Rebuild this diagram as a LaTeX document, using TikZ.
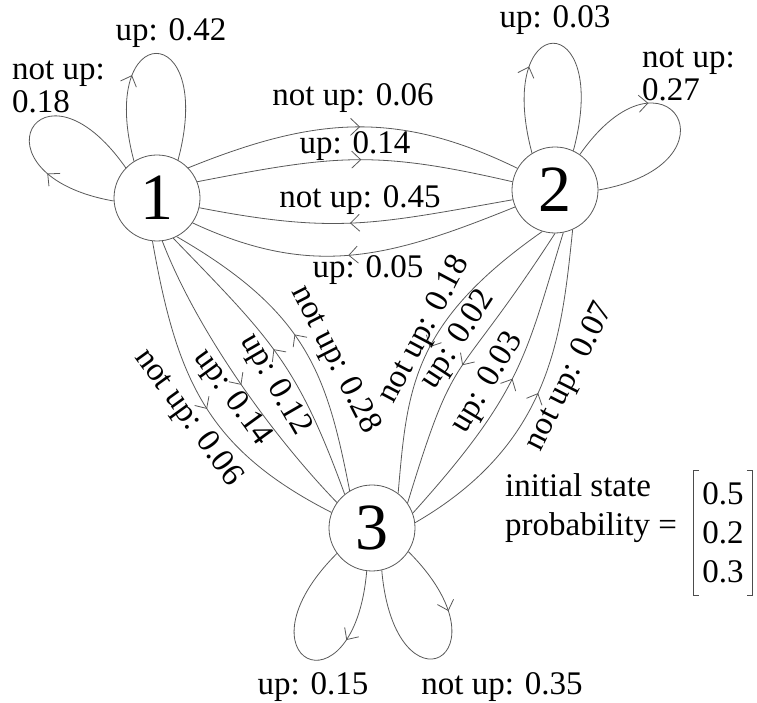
\documentclass[tikz,border=0pt]{standalone}
\usepackage{fontspec}
\setmainfont{Liberation Serif}
\usetikzlibrary{arrows.meta,decorations.markings}
\tikzset{
  state/.style={draw=black!65, line width=0.8pt, circle, minimum size=86pt, inner sep=0pt, font=\fontsize{66}{66}\selectfont},
  lbl/.style={inner sep=0pt, font=\fontsize{33}{33}\selectfont},
  tip/.style={Straight Barb[length=9pt,width=17pt,line width=0.8pt]},
  edge/.style={draw=black!65, line width=0.8pt, postaction={decorate},
    decoration={markings, mark=at position 0.52 with {\arrow{Straight Barb[length=9pt,width=17pt]}}}},
  loopedge/.style={draw=black!65, line width=0.8pt, postaction={decorate},
    decoration={markings, mark=at position #1 with {\arrow{Straight Barb[length=9pt,width=17pt]}}}},
}
\begin{document}
\begin{tikzpicture}[x=1pt,y=1pt]
\useasboundingbox (0,0) rectangle (757,703);
% states
\node[state] (n1) at (157,505) {1};
\node[state] (n2) at (555,513) {2};
\node[state] (n3) at (372,175) {3};
% self loops
\draw[loopedge=0.36] (n1.122) .. controls +(105:148) and +(75:148) .. (n1.61);
\draw[loopedge=0.3] (n1.184) .. controls +(170:150) and +(125:150) .. (n1.136);
\draw[loopedge=0.36] (n2.122) .. controls +(105:150) and +(75:150) .. (n2.65);
\draw[loopedge=0.36] (n2.55) .. controls +(55:150) and +(10:150) .. (n2.0);
\draw[loopedge=0.3] (n3.263) .. controls +(-95:150) and +(-135:150) .. (n3.216);
\draw[loopedge=0.3] (n3.-33) .. controls +(-45:150) and +(-85:150) .. (n3.-77);
% 1 <-> 2
\draw[edge] (n1.44) .. controls +(22:135) and +(154:135) .. (n2.150);
\draw[edge] (n1.22) .. controls +(11:141) and +(167:141) .. (n2.169);
\draw[edge] (n2.193) .. controls +(190:140) and +(-11:140) .. (n1.-13);
\draw[edge] (n2.203) .. controls +(202:134) and +(-25:134) .. (n1.-35);
% 1 <-> 3
\draw[edge] (n1.264) .. controls +(-80:140) and +(153:140) .. (n3.159);
\draw[edge] (n1.-83) .. controls +(-69:95) and +(134:95) .. (n3.144);
\draw[edge] (n3.129) .. controls +(110:140) and +(-46:140) .. (n1.-68);
\draw[edge] (n3.121) .. controls +(101:120) and +(-30:150) .. (n1.-63);
% 2 <-> 3
\draw[edge] (n2.-107) .. controls +(215:160) and +(85:105) .. (n3.53);
\draw[edge] (n2.-90) .. controls +(-123:190) and +(73:170) .. (n3.35);
\draw[edge] (n3.20) .. controls +(48:164) and +(-107:129) .. (n2.-79);
\draw[edge] (n3.7) .. controls +(30:159) and +(-96:105) .. (n2.-66);
% labels: loops
\node[lbl] (l1u) at (171,670) {up: 0.42};
\node[lbl, anchor=west, align=left] (l1n) at (12,616) {not up:\\0.18};
\node[lbl] (l2u) at (555,683) {up: 0.03};
\node[lbl, anchor=west, align=left] (l2n) at (642,628) {not up:\\0.27};
\node[lbl] (l3u) at (313,16) {up: 0.15};
\node[lbl] (l3n) at (502,16) {not up: 0.35};
% labels: 1-2
\node[lbl] (a12n) at (353,605) {not up: 0.06};
\node[lbl] (a12u) at (355,557) {up: 0.14};
\node[lbl] (a21n) at (360,503) {not up: 0.45};
\node[lbl] (a21u) at (368,433) {up: 0.05};
% labels: 1-3
\node[lbl, rotate=-54] (a13n) at (188,285) {not up: 0.06};
\node[lbl, rotate=-54] (a13u) at (232,305) {up: 0.14};
\node[lbl, rotate=-60] (a31u) at (275,318) {up: 0.12};
\node[lbl, rotate=-63] (a31n) at (335,343) {not up: 0.28};
% labels: 2-3
\node[lbl, rotate=62] (a23n) at (425,373) {not up: 0.18};
\node[lbl, rotate=57] (a23u) at (458,363) {up: 0.02};
\node[lbl, rotate=59] (a32u) at (488,320) {up: 0.03};
\node[lbl, rotate=63] (a32n) at (570,326) {not up: 0.07};
% initial state probability
\node[lbl, align=left, font=\fontsize{33}{39}\selectfont] (init) at (591,195) {initial state\\probability =};
\node[lbl, align=center, font=\fontsize{33}{39}\selectfont, inner xsep=9pt, inner ysep=12pt] (vec) at (723,170) {0.5\\0.2\\0.3};
\draw[black!70, line width=0.8pt] ([xshift=6pt]vec.north west) -- (vec.north west) -- (vec.south west) -- ([xshift=6pt]vec.south west);
\draw[black!70, line width=0.8pt] ([xshift=-6pt]vec.north east) -- (vec.north east) -- (vec.south east) -- ([xshift=-6pt]vec.south east);
\end{tikzpicture}
\end{document}
